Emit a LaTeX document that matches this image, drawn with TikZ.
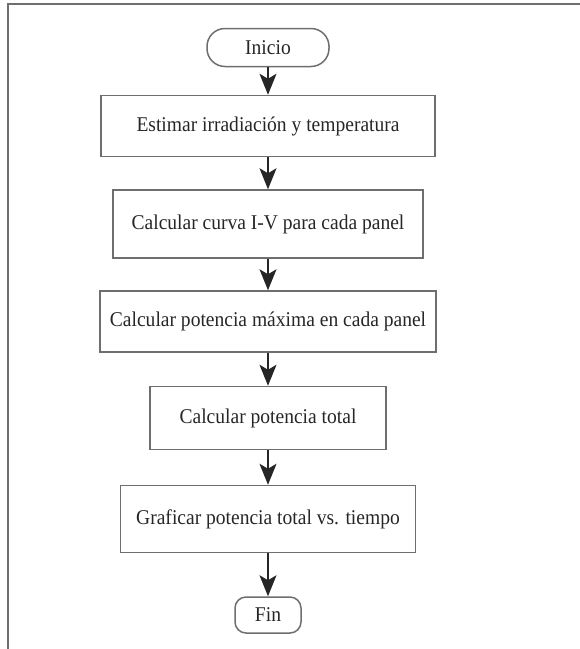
\documentclass[tikz,border=0pt]{standalone}
\usepackage{fontspec}
\setmainfont{Liberation Serif}[FakeStretch=0.93]
\usetikzlibrary{arrows.meta}
\definecolor{boxgray}{HTML}{6E6E6E}
\definecolor{txtgray}{HTML}{262626}
\begin{document}
\begin{tikzpicture}[x=1pt,y=-1pt,
  every node/.style={font=\fontsize{21}{25}\selectfont, text=txtgray, inner sep=0pt},
  procbox/.style={draw=boxgray, line width=1.5pt, rectangle},
  termbox/.style={draw=boxgray, line width=1.5pt, rectangle},
  flowarrow/.style={draw=black!85, line width=1.3pt, -{Stealth[length=21pt,width=17pt,inset=5pt]}},
  framestyle/.style={draw=boxgray, line width=1.6pt}]
\useasboundingbox (0,0) rectangle (580,649);
% frame
\coordinate (f1) at (8,649);
\coordinate (f2) at (8,4);
\coordinate (f3) at (580,4);
\draw[framestyle] (f1) -- (f2) -- (f3);
% nodes
\node[termbox, rounded corners=18pt, minimum width=122pt, minimum height=38pt] (inicio) at (268,47.5) {Inicio};
\node[procbox, minimum width=334pt, minimum height=61pt] (b1) at (268,126) {Estimar irradiación y temperatura};
\node[procbox, minimum width=310pt, minimum height=68pt] (b2) at (268,224) {Calcular curva I-V para cada panel};
\node[procbox, minimum width=336pt, minimum height=61pt] (b3) at (268,321.5) {Calcular potencia máxima en cada panel};
\node[procbox, minimum width=236pt, minimum height=63pt] (b4) at (268,418) {Calcular potencia total};
\node[procbox, minimum width=295pt, minimum height=67pt] (b5) at (268,519) {Graficar potencia total vs. tiempo};
\node[termbox, rounded corners=11pt, minimum width=66pt, minimum height=36pt] (fin) at (268,615) {Fin};
% connectors
\draw[flowarrow] (inicio.south) -- (b1.north);
\draw[flowarrow] (b1.south) -- (b2.north);
\draw[flowarrow] (b2.south) -- (b3.north);
\draw[flowarrow] (b3.south) -- (b4.north);
\draw[flowarrow] (b4.south) -- (b5.north);
\draw[flowarrow] (b5.south) -- (fin.north);
\end{tikzpicture}
\end{document}
